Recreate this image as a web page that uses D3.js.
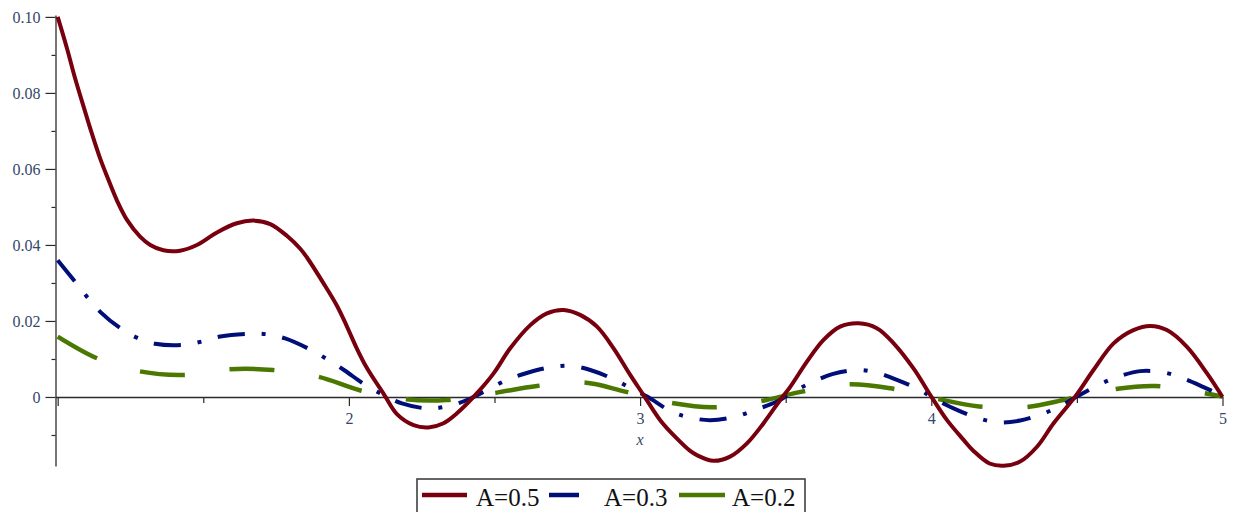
<!DOCTYPE html>
<html>
<head>
<meta charset="utf-8">
<script src="https://cdn.jsdelivr.net/npm/d3@7"></script>
<style>
  html, body { margin: 0; padding: 0; background: #ffffff; }
  svg { display: block; }
  text { font-family: "Liberation Serif", "Times New Roman", serif; }
</style>
</head>
<body>
<svg id="chart" width="1233" height="512"></svg>
<script>
// ---- data ----
const redX = [1.000,1.032,1.060,1.089,1.117,1.146,1.175,1.203,1.238,1.283,1.318,1.363,1.420,1.478,1.547,1.615,1.672,1.730,1.787,1.833,1.856,1.913,1.959,1.993,2.027,2.062,2.122,2.165,2.222,2.273,2.325,2.371,2.440,2.497,2.554,2.623,2.680,2.737,2.794,2.852,2.909,2.966,3.012,3.069,3.126,3.172,3.195,3.252,3.309,3.367,3.424,3.481,3.515,3.573,3.630,3.687,3.750,3.813,3.870,3.940,4.000,4.054,4.111,4.145,4.200,4.248,4.305,4.363,4.420,4.494,4.557,4.626,4.694,4.752,4.809,4.878,4.947,5.000];
const redY = [0.1000,0.0917,0.0838,0.0764,0.0694,0.0627,0.0570,0.0518,0.0466,0.0422,0.0400,0.0386,0.0385,0.0400,0.0433,0.0457,0.0464,0.0455,0.0424,0.0390,0.0367,0.0299,0.0240,0.0186,0.0128,0.0076,0.0005,-0.0045,-0.0074,-0.0080,-0.0069,-0.0043,0.0010,0.0062,0.0128,0.0189,0.0220,0.0229,0.0216,0.0185,0.0128,0.0058,0.0005,-0.0061,-0.0109,-0.0142,-0.0153,-0.0168,-0.0157,-0.0122,-0.0069,-0.0008,0.0026,0.0093,0.0150,0.0185,0.0194,0.0181,0.0142,0.0074,0.0001,-0.0061,-0.0113,-0.0142,-0.0175,-0.0181,-0.0170,-0.0131,-0.0069,0.0001,0.0071,0.0141,0.0176,0.0187,0.0176,0.0132,0.0062,0.0000];

const blueX = [1.000,1.060,1.100,1.146,1.215,1.272,1.335,1.432,1.495,1.558,1.652,1.718,1.781,1.869,1.926,1.983,2.056,2.119,2.182,2.268,2.336,2.405,2.474,2.543,2.611,2.691,2.760,2.829,2.914,2.972,3.024,3.109,3.170,3.241,3.326,3.395,3.470,3.533,3.595,3.660,3.745,3.813,3.882,3.962,4.007,4.088,4.162,4.231,4.305,4.380,4.443,4.500,4.586,4.649,4.717,4.803,4.872,4.935,5.000];
const blueY = [0.0360,0.0303,0.0264,0.0224,0.0181,0.0156,0.0140,0.0137,0.0146,0.0159,0.0166,0.0165,0.0154,0.0124,0.0099,0.0071,0.0032,0.0005,-0.0017,-0.0030,-0.0025,-0.0008,0.0018,0.0045,0.0063,0.0078,0.0082,0.0071,0.0045,0.0021,0.0001,-0.0039,-0.0054,-0.0061,-0.0052,-0.0034,-0.0012,0.0017,0.0040,0.0060,0.0071,0.0064,0.0045,0.0018,-0.0003,-0.0034,-0.0056,-0.0067,-0.0062,-0.0045,-0.0024,0.0001,0.0036,0.0055,0.0068,0.0064,0.0047,0.0026,0.0003];

const greenX = [1.000,1.135,1.278,1.434,1.590,1.739,1.896,2.040,2.193,2.336,2.497,2.646,2.806,2.949,3.103,3.252,3.407,3.556,3.710,3.859,4.010,4.164,4.322,4.466,4.626,4.769,4.930,5.000];
const greenY = [0.0159,0.0102,0.0068,0.0058,0.0073,0.0071,0.0053,0.0017,-0.0006,-0.0008,0.0010,0.0029,0.0038,0.0014,-0.0015,-0.0027,-0.0012,0.0014,0.0033,0.0023,-0.0003,-0.0025,-0.0027,-0.0006,0.0020,0.0029,0.0011,0.0001];

const seriesNames = ["A=0.5", "A=0.3", "A=0.2"];
const xTickValues = [1, 2, 3, 4, 5];
const xTickLabels = ["", "2", "3", "4", "5"];
const xMinorTicks = [1.5, 2.5, 3.5, 4.5];
const yTickValues = [0, 0.02, 0.04, 0.06, 0.08, 0.10];
const yTickLabels = ["0", "0.02", "0.04", "0.06", "0.08", "0.10"];
const yMinorTicks = [-0.01, 0.01, 0.03, 0.05, 0.07, 0.09];
const xDomain = [0.9925, 5];
const yDomain = [-0.01816, 0.1005];
const xLabel = "x";

// ---- drawing ----
const svg = d3.select("#chart");
const x = d3.scaleLinear().domain(xDomain).range([55.5, 1222.5]);
const y = d3.scaleLinear().domain(yDomain).range([466, 15]);

const textColor = "#34476a";
const axisColor = "#2a2a2a";

const gxm = svg.append("g").attr("transform", `translate(0,${y(0)})`)
  .call(d3.axisBottom(x).tickValues(xMinorTicks).tickSize(6).tickSizeOuter(0).tickFormat(""));
gxm.select(".domain").remove();
const gx = svg.append("g").attr("transform", `translate(0,${y(0)})`)
  .call(d3.axisBottom(x).tickValues(xTickValues).tickSize(9).tickSizeOuter(0).tickPadding(7)
    .tickFormat((d, i) => xTickLabels[i]));
const gym = svg.append("g").attr("transform", `translate(${x.range()[0]},0)`)
  .call(d3.axisLeft(y).tickValues(yMinorTicks).tickSize(4).tickSizeOuter(0).tickFormat(""));
gym.select(".domain").remove();
const gy = svg.append("g").attr("transform", `translate(${x.range()[0]},0)`)
  .call(d3.axisLeft(y).tickValues(yTickValues).tickSize(10).tickSizeOuter(0).tickPadding(5)
    .tickFormat((d, i) => yTickLabels[i]));

svg.selectAll(".domain").attr("stroke", axisColor).attr("stroke-width", 1.3);
svg.selectAll(".tick line").attr("stroke", axisColor).attr("stroke-width", 1.2);
svg.selectAll(".tick text").attr("fill", textColor)
  .style("font-family", "'Liberation Serif', serif").style("font-size", "16px");

svg.append("text")
  .attr("x", x(3)).attr("y", 445)
  .attr("text-anchor", "middle")
  .attr("fill", textColor)
  .style("font-style", "italic").style("font-size", "16px")
  .text(xLabel);

const line = d3.line().x(d => x(d[0])).y(d => y(d[1])).curve(d3.curveCatmullRom.alpha(0.5));

const series = [
  { xs: redX, ys: redY, color: "#78000E", dash: null, width: 4 },
  { xs: blueX, ys: blueY, color: "#000E78", dash: "27,17,4,17", width: 4 },
  { xs: greenX, ys: greenY, color: "#4A7800", dash: "45,45", width: 4.5 }
];

[2, 1, 0].forEach(i => {
  const s = series[i];
  const pts = s.xs.map((v, k) => [v, s.ys[k]]);
  const p = svg.append("path")
    .attr("d", line(pts))
    .attr("fill", "none")
    .attr("stroke", s.color)
    .attr("stroke-width", s.width)
    .attr("stroke-linejoin", "round");
  if (s.dash) p.attr("stroke-dasharray", s.dash);
});

// legend
const lg = svg.append("g");
lg.append("rect")
  .attr("x", 417).attr("y", 479).attr("width", 388).attr("height", 60)
  .attr("fill", "#ffffff").attr("stroke", "#404040").attr("stroke-width", 1.6);
const legendItems = [
  { x1: 422, x2: 467, tx: 476 },
  { x1: 549, x2: 579, tx: 604 },
  { x1: 679, x2: 725, tx: 732 }
];
legendItems.forEach((it, i) => {
  lg.append("line")
    .attr("x1", it.x1).attr("x2", it.x2).attr("y1", 495).attr("y2", 495)
    .attr("stroke", series[i].color).attr("stroke-width", 4.5);
  lg.append("text")
    .attr("x", it.tx).attr("y", 506)
    .attr("fill", "#111111")
    .style("font-size", "25px")
    .text(seriesNames[i]);
});
</script>
</body>
</html>
